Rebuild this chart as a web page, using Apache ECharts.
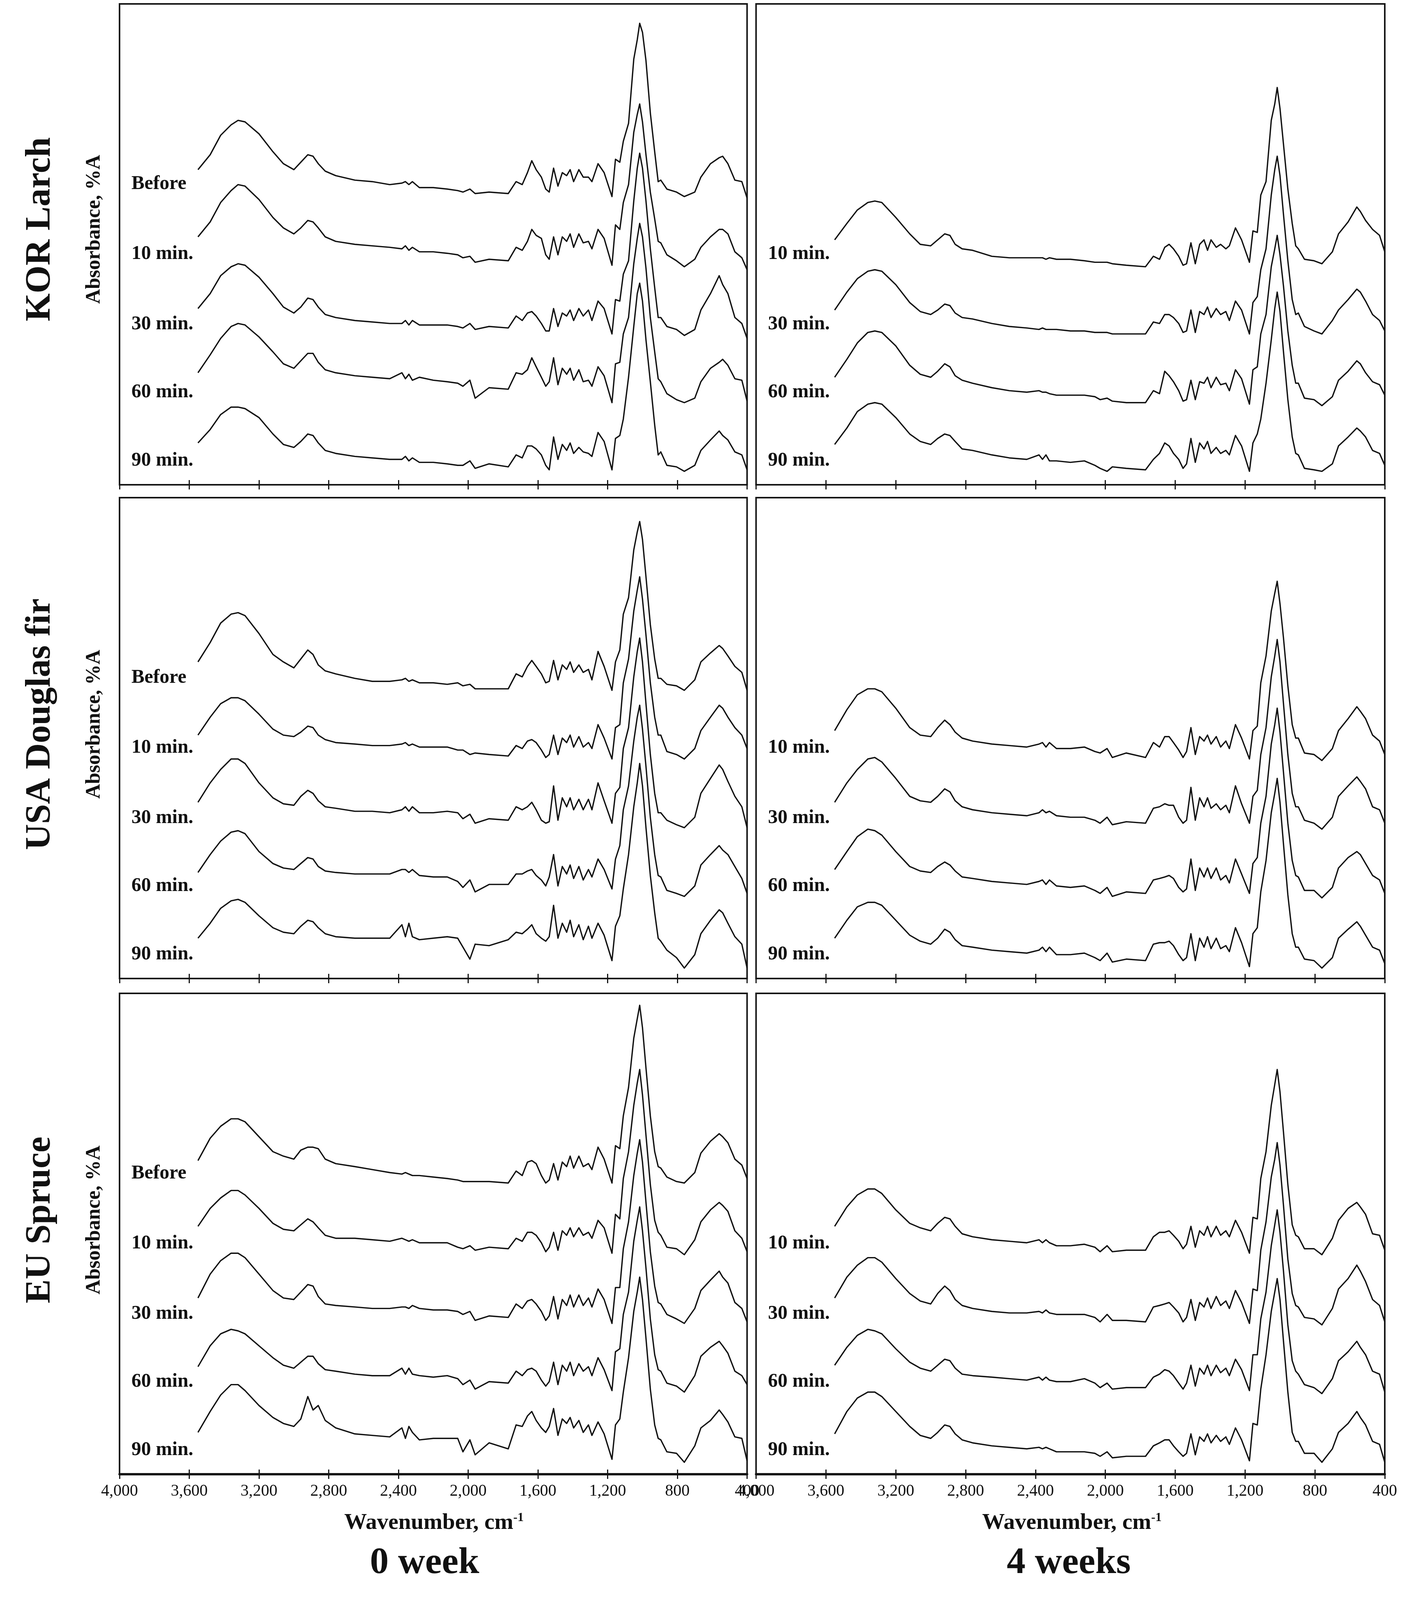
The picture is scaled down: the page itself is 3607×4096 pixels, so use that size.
<!DOCTYPE html>
<html><head><meta charset="utf-8">
<script src="https://cdn.jsdelivr.net/npm/echarts@6/dist/echarts.min.js"></script>
<style>html,body{margin:0;padding:0;background:#fff}#c{width:3607px;height:4096px}</style>
</head><body><div id="c"></div>
<script>
// ---------------- DATA ----------------
const WN = [3550,3480,3420,3360,3320,3280,3200,3120,3060,3000,
2960,2920,2890,2860,2820,2760,2650,2550,2450,2380,
2360,2340,2320,2280,2200,2120,2060,2030,1990,1960,
1880,1770,1725,1690,1660,1635,1610,1580,1555,1535,
1510,1485,1460,1435,1415,1395,1365,1340,1310,1290,
1255,1220,1175,1155,1130,1110,1080,1050,1030,1016,
1000,980,955,930,910,895,860,805,760,700,
665,610,560,540,510,470,430,400];

const SPECIES = ['KOR Larch', 'USA Douglas fir', 'EU Spruce'];
const PERIODS = ['0 week', '4 weeks'];
const CURVE_LABELS_0W = ['Before', '10 min.', '30 min.', '60 min.', '90 min.'];
const CURVE_LABELS_4W = ['10 min.', '30 min.', '60 min.', '90 min.'];
const X_TICK_VALUES = [4000,3600,3200,2800,2400,2000,1600,1200,800,400];
const X_TICK_LABELS = ['4,000','3,600','3,200','2,800','2,400','2,000','1,600','1,200','800','400'];
const X_TITLE = 'Wavenumber, cm';
const X_TITLE_SUP = '-1';
const Y_TITLE = 'Absorbance, %A';

// KOR Larch, 0 week
const larch0_before = [211,221,234,241,244,243,235,223,215,211,
216,221,220,215,210,207,204,203,201,202,
203,201,203,199,199,198,197,196,198,195,
196,195,203,201,209,217,211,206,198,196,
212,200,209,207,211,203,211,206,206,203,
215,209,193,218,216,230,242,285,298,309,
303,284,249,223,203,204,198,196,193,196,
206,215,219,220,215,204,203,192];
const larch0_10 = [166,176,189,197,201,200,191,179,172,168,
172,177,176,172,166,163,161,160,159,158,
160,157,159,156,156,155,154,152,153,149,
151,150,159,157,163,171,167,165,154,151,
166,154,166,163,168,159,168,162,163,158,
171,165,147,174,171,189,201,236,248,255,
243,221,196,178,163,162,154,150,146,151,
159,166,171,171,168,156,152,144];
const larch0_30 = [118,128,140,146,148,147,139,128,119,115,
119,125,124,119,114,112,110,109,108,108,
110,107,110,107,107,107,106,105,108,104,
106,105,113,110,115,116,113,108,103,103,
118,106,115,113,117,110,118,113,117,110,
123,118,101,124,123,141,150,190,212,222,
212,190,158,132,112,112,106,104,100,104,
117,128,140,134,128,112,108,98];
const larch0_60 = [75,87,98,106,108,107,99,89,81,78,
83,88,88,82,77,75,73,72,71,75,
71,74,70,72,70,69,68,66,70,58,
65,64,75,74,77,85,79,72,66,69,
85,67,78,74,78,70,77,69,70,66,
79,73,55,81,82,101,112,148,165,175,
166,145,112,89,71,69,61,57,55,58,
69,78,82,84,80,71,70,56];
const larch0_90 = [28,37,47,52,52,51,45,34,27,25,
29,34,33,28,23,21,19,18,17,17,
19,16,18,15,15,14,13,13,16,11,
14,12,20,18,26,26,24,20,13,10,
32,17,27,23,28,21,25,22,21,19,
35,29,10,31,33,44,72,106,128,135,
123,97,69,40,20,22,13,12,9,13,
23,30,36,33,30,22,20,10];

// KOR Larch, 4 weeks
const larch4_10 = [164,175,184,189,190,189,179,168,161,160,
164,168,167,161,158,157,153,152,152,152,
152,151,152,151,151,150,149,149,149,148,
147,146,153,151,159,161,158,153,147,148,
162,148,161,164,157,164,159,161,158,160,
172,164,149,170,169,194,203,244,255,266,
252,228,198,175,160,158,151,150,148,156,
168,176,186,183,177,171,167,156];
const larch4_30 = [117,129,138,143,144,143,134,122,116,114,
117,121,120,115,112,111,108,106,105,104,
105,104,104,104,103,103,102,102,102,101,
101,101,109,108,114,114,112,108,102,103,
117,102,116,114,119,112,118,114,116,110,
123,117,101,122,126,144,158,194,211,220,
207,181,150,124,114,115,106,103,101,110,
117,124,131,129,123,114,110,103];
const larch4_60 = [72,84,95,102,103,102,93,80,74,72,
76,81,79,73,70,68,65,63,62,63,
62,62,61,60,60,60,59,57,58,56,
55,55,63,61,76,73,69,63,56,57,
70,57,69,68,72,65,72,67,68,63,
77,71,54,77,79,101,114,146,158,167,
154,133,103,80,68,68,58,57,53,59,
70,76,83,81,75,69,67,60];
const larch4_90 = [27,38,49,54,55,54,45,34,29,27,
31,34,33,29,24,23,20,18,17,20,
17,20,16,16,15,16,13,11,9,12,
11,10,17,21,28,26,21,17,11,14,
31,15,28,24,29,21,25,21,23,20,
33,26,9,28,34,44,68,97,118,129,
116,89,57,32,21,20,11,10,9,14,
26,32,38,36,32,23,21,13];

// USA Douglas fir, 0 week
const douglas0_before = [212,225,238,244,245,243,231,217,212,208,
214,220,217,210,206,204,201,199,199,200,
201,199,200,198,198,197,198,196,197,194,
194,194,204,202,209,213,209,204,198,199,
213,200,210,207,212,205,210,205,207,200,
219,209,193,212,220,244,255,287,299,306,
294,269,237,214,201,201,197,196,193,200,
212,218,223,221,216,209,205,193];
const douglas0_10 = [163,175,184,188,188,186,177,167,163,162,
165,169,168,163,160,158,157,156,156,157,
158,156,157,155,155,155,153,153,150,151,
150,149,156,154,159,160,158,153,148,150,
163,150,161,158,163,155,162,155,158,154,
170,161,147,168,170,198,214,246,260,269,
254,230,198,175,163,163,152,150,147,154,
166,175,183,181,175,168,163,154];
const douglas0_30 = [118,131,140,147,147,144,131,121,117,116,
122,126,124,119,115,114,112,112,111,113,
115,112,115,111,111,112,111,107,110,104,
107,106,115,113,115,118,113,106,104,105,
129,106,121,115,121,113,120,113,120,113,
131,119,104,124,128,154,168,202,219,228,
212,184,150,124,111,111,106,103,101,108,
124,134,143,140,132,122,115,101];
const douglas0_60 = [71,83,92,98,99,97,85,77,74,73,
77,81,80,75,72,71,70,70,70,73,
73,71,73,69,68,68,65,61,66,58,
63,63,70,70,72,73,69,66,62,68,
83,62,75,70,76,67,75,66,73,68,
80,73,60,80,89,113,129,159,175,183,
167,142,108,83,69,68,59,57,55,62,
76,83,89,86,83,75,67,57];
const douglas0_90 = [27,37,47,52,53,51,42,34,31,30,
35,39,38,34,30,28,27,27,27,36,
28,37,28,26,27,28,27,21,13,23,
22,26,31,30,33,36,30,27,25,28,
49,27,37,31,39,28,36,26,35,27,
37,29,12,35,42,60,83,115,131,144,
129,101,69,44,27,25,19,14,7,16,
30,39,46,44,37,28,23,7];

// USA Douglas fir, 4 weeks
const douglas4_10 = [166,180,190,194,194,192,181,168,163,162,
168,173,170,165,161,159,157,156,155,157,
158,155,158,154,154,155,152,151,154,148,
151,148,158,155,162,162,158,153,148,152,
168,150,162,159,163,157,162,155,159,154,
170,161,147,166,169,198,216,246,258,266,
251,228,196,170,161,161,151,150,146,154,
166,174,182,179,174,163,159,150];
const douglas4_30 = [118,131,140,147,148,145,134,122,119,118,
122,127,125,119,115,113,111,110,109,111,
113,111,112,109,108,108,106,104,108,103,
105,104,114,115,117,116,116,108,104,106,
128,106,121,115,121,114,117,113,116,111,
129,117,104,122,126,150,168,202,216,227,
212,184,150,124,115,115,106,104,100,108,
122,129,135,132,127,115,113,104];
const douglas4_60 = [73,85,95,100,99,96,85,75,72,71,
75,78,76,72,68,67,65,64,63,65,
66,63,66,62,61,62,59,57,61,55,
58,57,66,67,68,69,67,61,58,60,
80,59,74,68,74,67,74,66,69,64,
80,70,57,77,81,104,122,157,170,181,
165,138,104,79,69,68,59,59,54,61,
74,81,85,83,77,69,66,57];
const douglas4_90 = [27,39,48,51,51,49,39,29,25,23,
27,33,31,26,22,21,19,18,17,19,
21,18,21,16,16,17,14,12,17,11,
13,12,23,24,24,25,22,16,12,14,
30,12,27,21,28,20,27,20,22,18,
34,24,8,30,34,58,79,111,124,134,
118,90,56,30,21,21,13,12,7,14,
27,33,38,35,29,21,19,10];

// EU Spruce, 0 week
const spruce0_before = [210,225,233,238,238,236,226,216,213,211,
217,219,219,218,211,208,206,204,202,201,
202,201,200,200,199,198,197,196,196,196,
196,195,203,200,209,210,208,200,195,197,
208,197,209,206,213,205,213,206,208,204,
219,211,195,220,218,240,259,292,305,314,
299,272,240,216,206,205,199,196,195,202,
215,223,228,226,222,211,207,198];
const spruce0_10 = [166,178,185,190,190,187,178,168,164,163,
167,171,169,165,160,158,158,157,156,158,
157,156,157,155,155,155,152,151,153,150,
152,151,158,156,162,162,160,155,149,152,
162,150,163,160,165,159,165,160,162,158,
170,165,148,174,171,198,216,247,262,271,
254,227,194,170,162,160,152,151,147,157,
169,177,182,180,176,163,158,149];
const spruce0_30 = [118,134,143,148,148,145,134,123,118,117,
122,127,126,119,114,113,112,111,111,112,
112,111,113,111,110,110,109,107,109,103,
106,105,114,111,116,117,114,109,103,106,
119,104,117,113,120,112,120,113,118,112,
124,117,101,125,125,151,169,200,215,224,
209,182,149,126,115,114,107,104,101,111,
123,130,136,132,128,115,111,102];
const spruce0_60 = [72,86,94,97,96,94,86,78,73,71,
75,79,79,74,70,69,67,66,66,71,
67,71,67,66,65,66,64,60,63,57,
62,61,69,66,70,71,69,63,59,62,
75,60,73,69,75,66,74,69,72,66,
78,70,56,82,84,107,122,156,170,179,
163,138,104,80,70,69,61,59,55,66,
79,85,89,86,81,69,66,60];
const spruce0_90 = [28,42,53,60,60,56,46,38,34,32,
37,52,43,46,36,31,27,26,25,31,
24,32,28,23,24,24,24,15,23,13,
21,17,33,32,39,42,36,31,28,32,
44,26,37,34,38,31,36,28,33,26,
35,27,10,33,37,55,78,109,122,132,
117,91,57,33,24,23,15,14,8,19,
31,36,43,40,35,25,24,9];

// EU Spruce, 4 weeks
const spruce4_10 = [166,179,187,191,191,188,177,168,165,163,
168,172,171,166,161,159,157,156,155,157,
155,157,155,153,153,154,152,149,153,149,
150,150,159,162,162,163,160,156,151,154,
166,152,163,160,166,159,166,160,163,159,
170,162,148,172,171,198,216,247,261,271,
256,229,194,167,160,159,151,151,147,158,
170,178,182,179,174,161,160,150];
const spruce4_30 = [118,132,140,145,145,142,131,121,116,114,
121,126,123,117,113,111,109,108,108,109,
108,110,108,107,107,107,105,102,107,103,
103,102,112,113,114,115,112,108,102,105,
117,103,115,112,118,111,119,113,116,111,
123,115,101,124,123,150,169,199,211,222,
207,180,144,121,113,112,105,104,100,111,
124,131,140,136,129,117,113,102];
const spruce4_60 = [73,85,93,97,96,94,84,75,71,69,
73,77,76,71,67,66,65,64,63,65,
63,65,63,62,62,64,61,58,61,57,
58,58,65,67,70,69,66,61,57,61,
73,59,71,67,73,66,73,68,71,66,
77,70,56,80,80,104,122,153,167,177,
162,136,100,76,69,67,60,58,54,64,
76,82,89,85,80,69,67,55];
const spruce4_90 = [27,42,51,55,55,52,42,32,26,24,
28,33,32,27,23,21,19,18,17,18,
17,18,17,15,15,15,14,12,15,11,
12,12,19,21,23,23,19,15,12,14,
27,13,25,22,27,21,26,22,25,20,
31,23,9,34,33,57,80,109,122,131,
117,89,55,28,22,22,14,14,8,17,
28,34,42,38,33,22,20,8];

// ---------------- LAYOUT ----------------
const COL_LEFT = [306, 1935.5];
const COL_WIDTH = [1606.5, 1609.5];
const ROW_TOP = [10, 1274, 2543];
const ROW_HEIGHT = 1231;
const Y_MAX = 322;
const LABEL_X_WN = 3933;
const LABEL_LEVEL = {'Before': 201.4, '10 min.': 154.5, '30 min.': 107.5, '60 min.': 62, '90 min.': 16.2};
const SERIF = '"Liberation Serif", "Times New Roman", serif';
const INK = '#111111';

const PANELS = [
  {row:0, col:0, labels:CURVE_LABELS_0W, curves:[larch0_before, larch0_10, larch0_30, larch0_60, larch0_90]},
  {row:0, col:1, labels:CURVE_LABELS_4W, curves:[larch4_10, larch4_30, larch4_60, larch4_90]},
  {row:1, col:0, labels:CURVE_LABELS_0W, curves:[douglas0_before, douglas0_10, douglas0_30, douglas0_60, douglas0_90]},
  {row:1, col:1, labels:CURVE_LABELS_4W, curves:[douglas4_10, douglas4_30, douglas4_60, douglas4_90]},
  {row:2, col:0, labels:CURVE_LABELS_0W, curves:[spruce0_before, spruce0_10, spruce0_30, spruce0_60, spruce0_90]},
  {row:2, col:1, labels:CURVE_LABELS_4W, curves:[spruce4_10, spruce4_30, spruce4_60, spruce4_90]}
];

function tickLabel(v) {
  const i = X_TICK_VALUES.indexOf(v);
  return i >= 0 ? X_TICK_LABELS[i] : '';
}

const grids = [], xAxes = [], yAxes = [], series = [];
PANELS.forEach((p, gi) => {
  grids.push({
    left: COL_LEFT[p.col], top: ROW_TOP[p.row], width: COL_WIDTH[p.col], height: ROW_HEIGHT,
    show: true, borderColor: '#151515', borderWidth: 4, backgroundColor: 'transparent',
    containLabel: false, outerBoundsMode: 'none'
  });
  const bottomRow = p.row === 2;
  const common = {type:'value', gridIndex: gi, position:'bottom', min:400, max:4000, interval:400, inverse:true, splitLine:{show:false}};
  xAxes.push(Object.assign({}, common, {
    axisLine: {show:true, onZero:false, lineStyle:{color:'#151515', width: bottomRow ? 6 : 4}},
    axisTick: {show:true, inside:false, length:12, lineStyle:{color:'#151515', width:3}},
    axisLabel: {show: bottomRow, margin: 23, formatter: tickLabel, fontFamily: SERIF, fontSize: 42, color: INK, showMinLabel: true, showMaxLabel: true}
  }));
  xAxes.push(Object.assign({}, common, {
    axisLine: {show:false},
    axisTick: {show:true, inside:true, length:12, lineStyle:{color:'#151515', width:3}},
    axisLabel: {show:false}
  }));
  yAxes.push({type:'value', gridIndex: gi, min:0, max:Y_MAX, show:false});
  p.curves.forEach((vals, k) => {
    series.push({
      type:'line', name: p.labels[k], xAxisIndex: gi*2, yAxisIndex: gi,
      data: WN.map((w, i) => [w, vals[i]]),
      showSymbol:false, symbol:'none', silent:true, animation:false, clip:true,
      lineStyle:{color:'#111', width:3.4, join:'round'}
    });
  });
  series.push({
    type:'scatter', xAxisIndex: gi*2, yAxisIndex: gi, silent:true, animation:false,
    symbolSize: 1, itemStyle:{color:'rgba(255,255,255,0)'},
    data: p.labels.map(t => [LABEL_X_WN, LABEL_LEVEL[t], t]),
    label: {show:true, position:'right', distance:0, opacity:1, formatter: prm => prm.value[2],
      fontFamily: SERIF, fontWeight:'bold', fontSize:50, color: INK},
    emphasis: {disabled: true}
  });
});

function txt(x, y, text, size, rot) {
  return {
    type:'text', x:x, y:y, rotation: rot || 0, silent:true,
    style: {text: text, fontFamily: SERIF, fontWeight:'bold', fontSize: size, fill: INK,
      align:'center', verticalAlign:'middle', textAlign:'center', textVerticalAlign:'middle'}
  };
}

const ROW_LABEL_Y = [587, 1854, 3123];
const graphics = [];
SPECIES.forEach((s, r) => {
  graphics.push(txt(103, ROW_LABEL_Y[r], s, 92, Math.PI/2));
  graphics.push(txt(242, ROW_LABEL_Y[r], Y_TITLE, 52, Math.PI/2));
});
const X_TITLE_X = [1111, 2744];
const PERIOD_X = [1087, 2736];
PERIODS.forEach((per, c) => {
  graphics.push({
    type:'text', x: X_TITLE_X[c], y: 3899, silent:true,
    style: {text: X_TITLE + '{s|' + X_TITLE_SUP + '}', fontFamily: SERIF, fontWeight:'bold', fontSize:58, fill: INK,
      align:'center', verticalAlign:'middle', textAlign:'center', textVerticalAlign:'middle',
      rich: {s: {fontFamily: SERIF, fontWeight:'bold', fontSize:32, fill: INK, verticalAlign:'top', lineHeight: 58}}}
  });
  graphics.push(txt(PERIOD_X[c], 4002, per, 96, 0));
});

const chart = echarts.init(document.getElementById('c'), null, {renderer:'canvas', width:3607, height:4096});
chart.setOption({
  backgroundColor:'#ffffff',
  animation:false,
  grid: grids, xAxis: xAxes, yAxis: yAxes, series: series,
  graphic: graphics
});
</script>
</body></html>
